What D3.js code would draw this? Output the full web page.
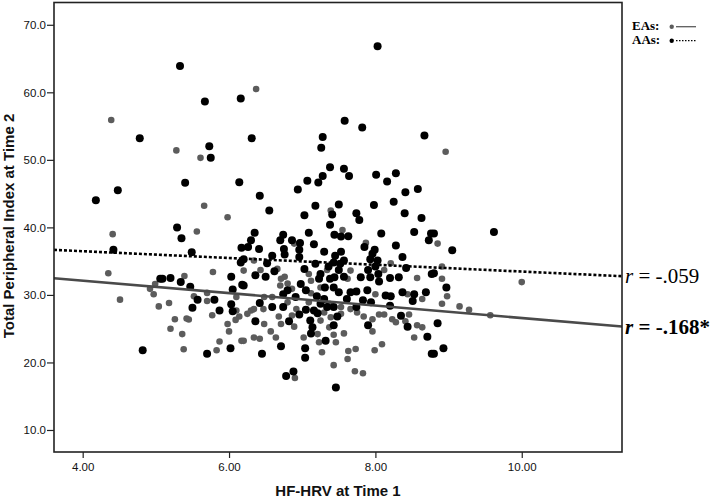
<!DOCTYPE html>
<html>
<head>
<meta charset="utf-8">
<script src="https://cdn.jsdelivr.net/npm/d3@7"></script>
<style>
  body { margin: 0; background: #fff; }
  svg { display: block; }
</style>
</head>
<body>
<div id="chart"></div>
<script>
// Set dimensions
const width = 714;
const height = 498;
const margin = { left: 54, right: 92, top: 2.5, bottom: 46 };

// Data: [HF-HRV, TPI]
const eaPoints = [
  [4.39,55.9],[5.28,51.4],[5.61,50.3],[5.66,43.2],[5.98,41.5],[6.37,60.5],[7.39,42.5],[8.96,51.2],
  [4.41,39.0],[5.56,39.4],[4.35,33.2],[4.51,29.3],[5.39,32.8],[4.92,30.9],[4.97,30.1],[4.99,31.6],
  [5.52,29.8],[5.18,28.8],[5.04,28.3],[5.78,33.4],[5.70,30.3],[5.70,29.1],[6.10,29.7],[6.10,27.7],
  [6.14,26.8],[6.09,26.3],[5.77,27.0],[5.26,26.4],[5.42,26.5],[5.45,26.35],[5.20,25.0],[5.36,24.2],
  [5.98,25.7],[6.00,24.6],[5.87,23.1],[6.17,23.2],[5.38,21.95],[5.83,21.8],
  [8.85,37.6],[8.91,34.2],[8.91,32.4],[8.98,29.8],[8.91,28.7],[9.15,28.3],[9.28,27.8],[9.57,27.0],[10.0,31.9],
  [7.55,39.6],[7.87,37.7],[6.43,33.7],[6.76,32.7],[6.70,31.4],[6.80,31.7],[7.12,30.25],[6.30,27.7],
  [6.34,27.9],[6.47,27.9],[6.48,25.7],[6.57,24.6],[6.34,23.7],[6.42,23.5],[6.64,23.7],[6.71,25.7],
  [6.68,26.8],[6.86,26.95],[6.89,25.3],[7.02,23.7],[7.23,23.0],[7.27,21.5],[7.21,24.2],[7.37,25.2],
  [7.43,24.1],[7.46,23.0],[7.57,24.3],[7.63,21.7],[7.62,20.5],[7.73,22.0],[7.72,18.7],[7.83,18.4],
  [7.43,19.6],[6.90,17.7],[7.99,21.8],[8.09,22.7],[7.96,24.6],[7.84,26.8],[7.96,26.4],[8.05,27.1],
  [8.12,27.1],[8.23,26.4],[8.28,25.95],[8.46,27.1],[8.57,25.5],[8.64,25.2],[8.53,23.7],[8.41,26.1],
  [8.57,32.5],[8.44,30.1],[8.64,29.4],[8.12,33.7],[8.21,34.7],[8.00,30.1],[7.75,27.4],[7.66,27.9],
  [7.53,28.2],[7.53,27.2],[7.39,26.7],[7.30,27.4],[7.25,26.2],[7.37,28.7],[7.62,32.4],[7.66,33.6],
  [7.25,31.1],[7.12,32.1],[7.09,33.1],[7.34,33.7],[6.86,30.9],[6.66,33.85],[6.71,32.4],[6.20,33.6],
  [6.25,27.2],[6.20,23.2],[6.89,37.6],[6.34,35.1],[6.59,29.7],[6.48,29.7],[7.09,28.9],[6.80,28.9],[6.92,27.9]
];

const aaPoints = [
  [5.33,63.88],[5.67,58.65],[6.16,59.1],[4.78,53.2],[5.73,52.0],[5.75,50.3],[5.40,46.6],[6.14,46.7],
  [4.48,45.5],[4.18,44.0],[5.29,40.0],
  [8.03,66.84],[7.58,55.8],[7.82,54.8],[8.67,53.6],[6.31,53.2],[7.28,53.4],[7.26,51.8],[7.38,48.9],
  [7.57,48.7],[7.64,47.6],[7.28,47.6],[7.22,46.65],[7.07,46.9],[6.94,45.6],[8.01,47.8],[8.16,46.8],
  [8.28,48.0],[8.41,45.2],[8.58,45.7],[8.25,43.8],[7.98,43.3],[8.40,42.1],[8.63,41.4],[6.42,44.7],
  [6.55,42.5],[7.18,43.2],[7.50,43.4],[7.03,41.8],[7.41,41.9],[7.74,42.1],[7.78,41.1],[7.38,40.4],
  [5.35,38.4],[4.42,36.7],[5.49,36.3],[6.17,37.0],[6.16,34.8],[5.06,32.4],[5.09,32.4],[5.20,32.5],
  [5.34,31.9],[5.47,31.2],[5.57,29.3],[5.50,28.1],[6.03,32.7],[6.05,30.8],[6.18,31.5],[5.80,29.3],
  [5.87,27.7],[6.03,28.6],[6.05,27.6],[4.82,21.8],[5.70,21.3],[6.02,22.1],
  [8.80,39.1],[9.62,39.3],[9.05,36.6],[8.80,33.2],[8.97,31.1],[8.85,25.8],[8.93,22.1],[8.80,21.3],
  [6.35,39.2],[6.30,38.1],[6.26,37.1],[6.41,36.8],[6.20,35.3],[6.74,38.9],[6.70,38.1],[6.86,38.1],
  [6.97,37.7],[7.09,39.2],[7.16,37.5],[6.75,36.8],[6.76,36.0],[6.96,36.7],[6.59,35.8],[6.96,35.6],
  [7.30,36.4],[7.44,38.9],[7.53,38.65],[7.63,38.7],[7.53,36.4],[7.45,35.8],[7.85,37.1],[7.99,36.7],
  [7.96,36.1],[8.08,39.1],[8.28,37.3],[8.37,35.6],[8.53,39.3],[8.73,38.1],[8.76,39.1],[7.93,35.3],
  [8.03,35.1],[8.00,34.2],[7.90,33.7],[7.80,32.6],[7.93,32.6],[8.04,33.1],[8.05,32.0],[8.20,32.5],
  [8.32,32.6],[8.42,34.0],[8.77,33.1],[8.69,30.4],[8.53,30.1],[8.51,29.1],[8.37,30.4],[8.14,29.9],
  [8.21,29.8],[8.20,28.4],[7.94,28.9],[7.83,29.2],[7.74,30.5],[7.66,30.4],[7.89,30.7],[7.61,29.4],
  [7.74,28.2],[7.57,35.1],[7.52,34.6],[7.43,34.8],[7.36,34.2],[7.50,33.7],[7.57,32.7],[7.44,32.6],
  [7.38,32.4],[7.25,33.1],[7.23,32.4],[7.31,31.1],[7.43,31.1],[7.50,30.4],[7.18,34.6],[7.03,33.85],
  [6.98,31.6],[7.05,30.7],[6.80,30.7],[6.74,30.1],[6.91,29.7],[7.20,29.8],[7.30,29.4],[7.25,28.7],
  [7.34,28.2],[7.43,28.2],[6.50,32.7],[6.36,32.9],[6.62,33.5],[6.52,34.7],[6.20,31.4],[6.42,28.8],
  [6.59,28.2],[6.74,28.2],[7.05,27.8],[6.96,27.1],[7.16,27.7],[7.21,27.3],[7.11,26.2],[7.14,25.2],
  [7.12,24.3],[7.43,25.5],[7.48,26.8],[7.90,25.5],[6.82,26.1],[6.36,26.1],[7.32,23.2],[6.71,22.4],
  [6.45,21.3],[7.04,22.1],[7.04,20.7],[6.88,18.65],[6.78,18.0],[7.46,16.3],[8.35,26.9],[8.44,25.3],
  [8.71,23.8],[8.77,21.3]
];

// Fit lines: [intercept, slope]
const eaFit = [35.79, -0.921];
const aaFit = [38.48, -0.502];
const fitLabels = ["-.059", "-.168*"];

const xDomain = [3.608, 11.37];
const yDomain = [6.74, 73.3];
const xTicks = [4, 6, 8, 10];
const yTicks = [10, 20, 30, 40, 50, 60, 70];

const svg = d3.select("#chart")
  .append("svg")
  .attr("width", width)
  .attr("height", height);

const x = d3.scaleLinear().domain(xDomain).range([margin.left, width - margin.right]);
const y = d3.scaleLinear().domain(yDomain).range([height - margin.bottom, margin.top]);

const sans = "'Liberation Sans', Arial, sans-serif";
const serif = "'Liberation Serif', 'Times New Roman', serif";

// axes
const xAxis = svg.append("g")
  .attr("transform", `translate(0,${height - margin.bottom})`)
  .call(d3.axisBottom(x).tickValues(xTicks).tickFormat(d3.format(".2f")).tickSize(6).tickPadding(5));
const yAxis = svg.append("g")
  .attr("transform", `translate(${margin.left},0)`)
  .call(d3.axisLeft(y).tickValues(yTicks).tickFormat(d3.format(".1f")).tickSize(7).tickPadding(1));

[xAxis, yAxis].forEach(g => {
  g.select(".domain").remove();
  g.selectAll(".tick line").attr("stroke", "#222").attr("stroke-width", 1.2);
  g.selectAll(".tick text").attr("fill", "#111").style("font-family", sans).style("font-size", "11.5px");
});

// points (EAs first, AAs on top)
svg.append("g").selectAll("circle")
  .data(eaPoints)
  .join("circle")
  .attr("cx", d => x(d[0]))
  .attr("cy", d => y(d[1]))
  .attr("r", 3.3)
  .attr("fill", "#5c5c5c");

svg.append("g").selectAll("circle")
  .data(aaPoints)
  .join("circle")
  .attr("cx", d => x(d[0]))
  .attr("cy", d => y(d[1]))
  .attr("r", 4)
  .attr("fill", "#000");

// fit lines
const fitLine = fit => d3.line()
  .x(d => x(d))
  .y(d => y(fit[0] + fit[1] * d))(xDomain);

svg.append("path")
  .attr("d", fitLine(aaFit))
  .attr("fill", "none")
  .attr("stroke", "#000")
  .attr("stroke-width", 2.6)
  .attr("stroke-dasharray", "3,2");

svg.append("path")
  .attr("d", fitLine(eaFit))
  .attr("fill", "none")
  .attr("stroke", "#4a4a4a")
  .attr("stroke-width", 2.6);

// frame
svg.append("rect")
  .attr("x", margin.left)
  .attr("y", margin.top)
  .attr("width", width - margin.left - margin.right)
  .attr("height", height - margin.top - margin.bottom)
  .attr("fill", "none")
  .attr("stroke", "#222")
  .attr("stroke-width", 1.6);

// r labels
const xr = x(xDomain[1]) + 3;
const rAA = svg.append("text")
  .attr("x", xr)
  .attr("y", y(aaFit[0] + aaFit[1] * xDomain[1]) + 7)
  .style("font-family", serif)
  .style("font-size", "21px");
rAA.append("tspan").style("font-style", "italic").text("r");
rAA.append("tspan").text(" = " + fitLabels[0]);

const rEA = svg.append("text")
  .attr("x", xr)
  .attr("y", y(eaFit[0] + eaFit[1] * xDomain[1]) + 7)
  .style("font-family", serif)
  .style("font-size", "21px")
  .style("font-weight", "bold");
rEA.append("tspan").style("font-style", "italic").text("r");
rEA.append("tspan").text(" = " + fitLabels[1]);

// legend
const legend = [
  { name: "EAs:", color: "#5c5c5c", dash: null, y: 26.7 },
  { name: "AAs:", color: "#000", dash: "1.5,1.5", y: 40.7 }
];
const lg = svg.append("g").selectAll("g").data(legend).join("g");
lg.append("text")
  .attr("x", 632)
  .attr("y", d => d.y + 3.5)
  .style("font-family", serif)
  .style("font-size", "13px")
  .style("font-weight", "bold")
  .text(d => d.name);
lg.append("circle")
  .attr("cx", 671.7)
  .attr("cy", d => d.y)
  .attr("r", 2.2)
  .attr("fill", d => d.color);
lg.append("line")
  .attr("x1", 676)
  .attr("x2", 696)
  .attr("y1", d => d.y)
  .attr("y2", d => d.y)
  .attr("stroke", d => d.color)
  .attr("stroke-width", 1.3)
  .attr("stroke-dasharray", d => d.dash);

// axis titles
svg.append("text")
  .attr("x", (margin.left + width - margin.right) / 2)
  .attr("y", 496)
  .attr("text-anchor", "middle")
  .style("font-family", sans)
  .style("font-size", "15px")
  .style("font-weight", "bold")
  .attr("fill", "#111")
  .text("HF-HRV at Time 1");

svg.append("text")
  .attr("transform", "translate(14,226) rotate(-90)")
  .attr("text-anchor", "middle")
  .style("font-family", sans)
  .style("font-size", "15px")
  .style("font-weight", "bold")
  .attr("fill", "#111")
  .text("Total Peripheral Index at Time 2");
</script>
</body>
</html>
